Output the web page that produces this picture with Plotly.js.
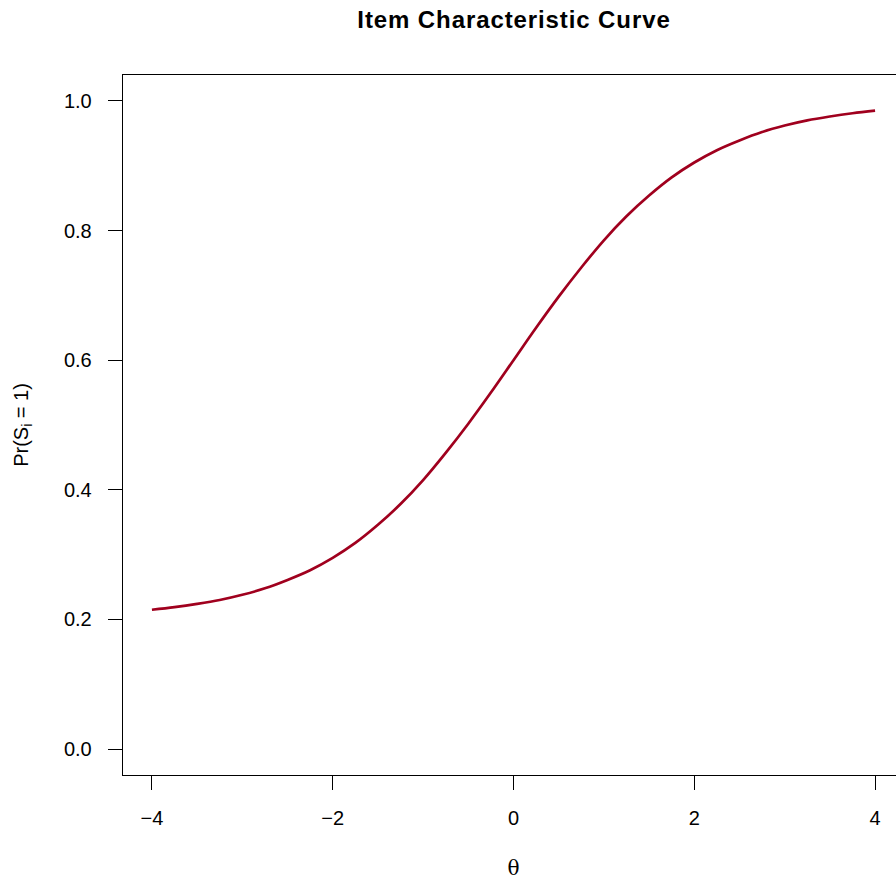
<!DOCTYPE html>
<html><head><meta charset="utf-8">
<script src="https://cdn.plot.ly/plotly-3.0.1.min.js"></script>
<style>html,body{margin:0;padding:0;overflow:hidden;background:#fff}
.gtitle{letter-spacing:0.9px}</style>
</head><body><div id="chart"></div>
<script>
const theta = [-4,-3.75,-3.5,-3.25,-3,-2.75,-2.5,-2.25,-2,-1.75,-1.5,-1.25,-1,-0.75,-0.5,-0.25,0,0.25,0.5,0.75,1,1.25,1.5,1.75,2,2.25,2.5,2.75,3,3.25,3.5,3.75,4];
const prob = [0.215,0.219,0.224,0.230,0.238,0.248,0.261,0.276,0.295,0.318,0.346,0.378,0.415,0.457,0.502,0.550,0.600,0.650,0.698,0.743,0.785,0.822,0.854,0.882,0.905,0.924,0.939,0.952,0.962,0.970,0.976,0.981,0.985];
const xTicks = [-4,-2,0,2,4];
const xTickLabels = ['\u22124','\u22122','0','2','4'];
const yTicks = [0,0.2,0.4,0.6,0.8,1.0];
const yTickLabels = ['0.0','0.2','0.4','0.6','0.8','1.0'];

const font = {family:'Liberation Sans, Arial, sans-serif', size:20, color:'#000'};
Plotly.newPlot('chart', [{
  x: theta, y: prob, type:'scatter', mode:'lines',
  line:{color:'#A0001E', width:2.7, shape:'spline', smoothing:1}, hoverinfo:'skip'
}], {
  width: 920, height: 880,
  margin:{l:123, r:16, t:75, b:105},
  paper_bgcolor:'#fff', plot_bgcolor:'#fff',
  font: font,
  showlegend:false,
  title:{text:'<b>Item Characteristic Curve</b>', x:514/920, xanchor:'center', y:1-20/880, yanchor:'middle', font:{family:'Liberation Sans, Arial, sans-serif', size:24, color:'#000'}},
  xaxis:{range:[-4.32,4.32], tickvals:xTicks, ticktext:xTickLabels, ticks:'outside', ticklen:14, tickwidth:1, tickcolor:'#000',
    showline:true, mirror:true, linecolor:'#000', linewidth:1.3, showgrid:false, zeroline:false,
    tickfont:font, ticklabelstandoff:11,
    title:{text:'\u03b8', font:{family:'DejaVu Serif, serif', size:20}, standoff:34}},
  yaxis:{range:[-0.04,1.04], tickvals:yTicks, ticktext:yTickLabels, ticks:'outside', ticklen:14, tickwidth:1, tickcolor:'#000',
    showline:true, mirror:true, linecolor:'#000', linewidth:1.3, showgrid:false, zeroline:false,
    tickfont:font, ticklabelstandoff:12,
    title:{text:'Pr(S<sub>i</sub> = 1)', font:font, standoff:30}}
}, {displayModeBar:false, staticPlot:true});
</script></body></html>
